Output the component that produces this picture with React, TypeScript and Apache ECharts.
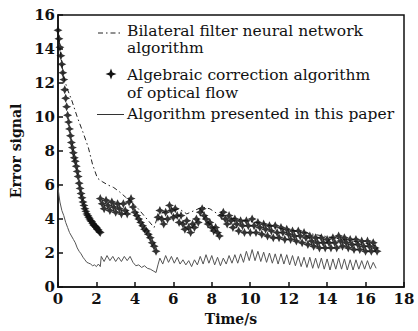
import React, { useEffect, useRef } from "react";
import * as echarts from "echarts";

// Time axis ticks (s) and error-signal ticks
const xTicks = [0, 2, 4, 6, 8, 10, 12, 14, 16, 18];
const yTicks = [0, 2, 4, 6, 8, 10, 12, 14, 16];

const seriesNames = [
  "Bilateral filter neural network algorithm",
  "Algebraic correction algorithm of optical flow",
  "Algorithm presented in this paper",
];

// Bilateral filter neural network algorithm (dash-dot), [time, error]
const bilateral: number[][] = [
  [0, 15.3], [0.1, 14.0], [0.28, 12.4], [0.5, 11.6], [0.71, 11.0], [1.0, 10.0],
  [1.3, 9.1], [1.58, 8.2], [1.8, 7.2], [2.05, 6.4], [2.3, 6.2], [2.6, 6.0],
  [2.9, 5.85], [3.2, 5.6], [3.5, 5.3], [3.8, 5.0], [4.1, 4.7], [4.4, 4.3],
  [4.7, 3.9], [5.0, 3.5], [5.2, 4.2], [5.5, 4.4], [5.9, 4.5], [6.3, 4.6],
  [6.7, 4.3], [7.1, 4.5], [7.5, 4.7], [7.9, 4.6], [8.3, 4.3], [8.8, 4.1],
  [9.3, 4.0], [9.8, 3.9], [10.3, 3.8], [10.8, 3.7], [11.3, 3.5], [11.8, 3.4],
  [12.3, 3.3], [12.8, 3.2], [13.3, 3.1], [13.8, 3.0], [14.3, 2.9], [14.8, 2.8],
  [15.3, 2.7], [15.8, 2.6], [16.3, 2.5], [16.6, 2.4],
];

// Algebraic correction algorithm of optical flow (star markers), [time, error]
const algebraic: number[][] = [
  [0, 15.1], [0.05, 14.6], [0.1, 14.1], [0.15, 13.6], [0.2, 13.1], [0.25, 12.6],
  [0.3, 12.2], [0.35, 11.6], [0.4, 11.1], [0.45, 10.6], [0.5, 10.1], [0.55, 9.7],
  [0.6, 9.3], [0.65, 8.9], [0.7, 8.5], [0.75, 8.2], [0.8, 7.9], [0.85, 7.6],
  [0.9, 7.4], [0.95, 7.1], [1.0, 6.8], [1.05, 6.5], [1.1, 6.1], [1.15, 5.8],
  [1.2, 5.5], [1.25, 5.25], [1.3, 5.0], [1.35, 4.8], [1.4, 4.6], [1.45, 4.45],
  [1.5, 4.3], [1.55, 4.2], [1.6, 4.1], [1.65, 4.0], [1.7, 3.9], [1.75, 3.85],
  [1.8, 3.75], [1.85, 3.65], [1.9, 3.6], [1.95, 3.55], [2.0, 3.5], [2.05, 3.4],
  [2.1, 3.35], [2.15, 3.25], [2.2, 3.2],
  [2.2, 5.2], [2.3, 4.9], [2.4, 4.6], [2.5, 5.1], [2.6, 4.8], [2.7, 4.5],
  [2.8, 5.0], [2.9, 4.7], [3.0, 4.4], [3.1, 4.9], [3.2, 4.6], [3.3, 4.3],
  [3.4, 4.9], [3.5, 4.5], [3.6, 4.3], [3.7, 5.0], [3.8, 5.2], [3.9, 4.7],
  [4.0, 4.4], [4.1, 4.2], [4.2, 4.0], [4.3, 3.8], [4.4, 3.6], [4.5, 3.4],
  [4.6, 3.3], [4.7, 3.1], [4.8, 2.9], [4.9, 2.6], [5.0, 2.4], [5.1, 2.1],
  [5.2, 4.1], [5.3, 4.5], [5.4, 4.0], [5.5, 3.7], [5.6, 4.4], [5.7, 4.0],
  [5.8, 4.8], [5.9, 4.5], [6.0, 4.1], [6.1, 4.6], [6.2, 4.2], [6.3, 3.8],
  [6.4, 4.2], [6.5, 3.7], [6.6, 3.4], [6.7, 3.9], [6.8, 3.5], [6.9, 3.2],
  [7.0, 3.7], [7.1, 3.5], [7.2, 4.0], [7.3, 3.8], [7.4, 4.4], [7.5, 4.6],
  [7.6, 4.2], [7.7, 4.0], [7.8, 3.7], [7.9, 3.8], [8.0, 3.5], [8.1, 3.3],
  [8.2, 3.5], [8.3, 3.2], [8.4, 3.0], [8.5, 4.2], [8.6, 4.4], [8.7, 4.0],
  [8.8, 3.7], [8.9, 4.2], [9.0, 3.9], [9.1, 3.5], [9.2, 4.0], [9.3, 3.7],
  [9.4, 3.3], [9.5, 3.9], [9.6, 3.6], [9.7, 3.2], [9.8, 3.9], [9.9, 3.6],
  [10.0, 3.2], [10.1, 4.0], [10.2, 3.6], [10.3, 3.2], [10.4, 3.8], [10.5, 3.5],
  [10.6, 3.1], [10.7, 3.7], [10.8, 3.4], [10.9, 3.0], [11.0, 3.6], [11.1, 3.3],
  [11.2, 2.9], [11.3, 3.6], [11.4, 3.2], [11.5, 2.9], [11.6, 3.5], [11.7, 3.2],
  [11.8, 2.8], [11.9, 3.4], [12.0, 3.1], [12.1, 2.8], [12.2, 3.3], [12.3, 3.0],
  [12.4, 2.7], [12.5, 3.3], [12.6, 3.0], [12.7, 2.6], [12.8, 3.2], [12.9, 2.9],
  [13.0, 2.5], [13.1, 3.0], [13.2, 2.7], [13.3, 2.4], [13.4, 2.9], [13.5, 2.6],
  [13.6, 2.3], [13.7, 2.9], [13.8, 2.6], [13.9, 2.3], [14.0, 2.8], [14.1, 2.6],
  [14.2, 2.3], [14.3, 2.9], [14.4, 2.6], [14.5, 2.3], [14.6, 3.0], [14.7, 2.7],
  [14.8, 2.4], [14.9, 2.9], [15.0, 2.6], [15.1, 2.3], [15.2, 2.8], [15.3, 2.5],
  [15.4, 2.2], [15.5, 2.8], [15.6, 2.5], [15.7, 2.2], [15.8, 2.7], [15.9, 2.4],
  [16.0, 2.1], [16.1, 2.7], [16.2, 2.4], [16.3, 2.1], [16.4, 2.6], [16.5, 2.3],
  [16.6, 2.1],
];

// Algorithm presented in this paper (solid), [time, error]
const presented: number[][] = [
  [0, 5.85], [0.05, 5.4], [0.1, 5.0], [0.2, 4.5], [0.3, 4.2], [0.4, 3.8],
  [0.5, 3.5], [0.6, 3.2], [0.7, 3.0], [0.8, 2.8], [0.9, 2.6], [1.0, 2.3],
  [1.1, 2.1], [1.2, 1.95], [1.3, 1.75], [1.4, 1.6], [1.5, 1.45], [1.6, 1.4],
  [1.7, 1.35], [1.8, 1.25], [1.9, 1.3], [2.0, 1.2], [2.1, 1.35], [2.2, 1.2],
  [2.25, 1.8], [2.4, 1.5], [2.55, 1.85], [2.7, 1.55], [2.85, 1.8], [3.0, 1.5],
  [3.15, 1.75], [3.3, 1.5], [3.45, 1.8], [3.6, 1.55], [3.75, 1.8], [3.9, 1.45],
  [4.05, 1.25], [4.2, 1.3], [4.35, 1.15], [4.5, 1.25], [4.65, 1.1], [4.8, 1.05],
  [4.95, 0.95], [5.1, 0.85], [5.2, 1.3], [5.3, 1.7], [5.45, 1.35], [5.6, 1.85],
  [5.75, 1.45], [5.9, 1.8], [6.05, 1.4], [6.2, 1.75], [6.35, 1.35], [6.5, 1.6],
  [6.65, 1.3], [6.8, 1.55], [6.95, 1.2], [7.1, 1.6], [7.25, 1.3], [7.4, 1.8],
  [7.55, 1.35], [7.7, 1.9], [7.85, 1.4], [8.0, 1.85], [8.15, 1.3], [8.3, 1.75],
  [8.45, 1.25], [8.6, 1.7], [8.75, 1.35], [8.9, 1.85], [9.05, 1.4], [9.2, 1.9],
  [9.35, 1.4], [9.5, 1.95], [9.65, 1.45], [9.8, 2.1], [9.95, 1.55], [10.1, 2.2],
  [10.25, 1.55], [10.4, 2.1], [10.55, 1.5], [10.7, 2.05], [10.85, 1.45], [11.0, 2.0],
  [11.15, 1.4], [11.3, 1.95], [11.45, 1.35], [11.6, 1.95], [11.75, 1.35], [11.9, 1.9],
  [12.05, 1.3], [12.2, 1.85], [12.35, 1.25], [12.5, 1.8], [12.65, 1.2], [12.8, 1.75],
  [12.95, 1.15], [13.1, 1.75], [13.25, 1.1], [13.4, 1.7], [13.55, 1.1], [13.7, 1.7],
  [13.85, 1.05], [14.0, 1.65], [14.15, 1.0], [14.3, 1.65], [14.45, 1.05], [14.6, 1.7],
  [14.75, 1.05], [14.9, 1.65], [15.05, 1.0], [15.2, 1.6], [15.35, 1.0], [15.5, 1.6],
  [15.65, 1.05], [15.8, 1.55], [15.95, 1.05], [16.1, 1.55], [16.25, 1.05], [16.4, 1.45],
  [16.55, 1.1],
];

const legendLines = [
  "Bilateral filter neural network",
  "algorithm",
  "Algebraic correction algorithm",
  "of optical flow",
  "Algorithm presented in this paper",
];

const STAR = "path://M0,-5 L1.6,-1.6 L5,0 L1.6,1.6 L0,5 L-1.6,1.6 L-5,0 L-1.6,-1.6 Z";
const serif = "DejaVu Serif";

export default function App() {
  const ref = useRef<HTMLDivElement>(null);
  useEffect(() => {
    if (!ref.current) return;
    const chart = echarts.init(ref.current, null, { renderer: "svg" });
    const legendFont = { fontFamily: serif, fontSize: 15.5, fill: "#111" };
    const textX = 127;
    const textYs = [31, 48, 75, 92.5, 114];
    chart.setOption({
      animation: false,
      backgroundColor: "#fff",
      grid: {
        left: 58, right: 14, top: 15, bottom: 43,
        show: true, borderColor: "#111", borderWidth: 1.5,
      },
      xAxis: {
        type: "value", min: 0, max: 18, interval: 2,
        name: "Time/s", nameLocation: "middle", nameGap: 25,
        nameTextStyle: { fontFamily: serif, fontWeight: "bold", fontSize: 14, color: "#111" },
        axisLine: { lineStyle: { color: "#111", width: 1.5 } },
        axisTick: { inside: true, length: 5, lineStyle: { color: "#111", width: 1.5 } },
        axisLabel: {
          margin: 4, fontFamily: serif, fontWeight: "bold", fontSize: 15, color: "#111",
          formatter: (v: number) => (xTicks.includes(v) ? String(v) : ""),
        },
        splitLine: { show: false },
      },
      yAxis: {
        type: "value", min: 0, max: 16, interval: 2,
        name: "Error signal", nameLocation: "middle", nameGap: 24,
        nameTextStyle: { fontFamily: serif, fontWeight: "bold", fontSize: 14, color: "#111" },
        axisLine: { show: true, lineStyle: { color: "#111", width: 1.5 } },
        axisTick: { show: true, inside: true, length: 5, lineStyle: { color: "#111", width: 1.5 } },
        axisLabel: {
          margin: 3, fontFamily: serif, fontWeight: "bold", fontSize: 15, color: "#111",
          formatter: (v: number) => (yTicks.includes(v) ? String(v) : ""),
        },
        splitLine: { show: false },
      },
      series: [
        {
          name: seriesNames[0], type: "line", data: bilateral, showSymbol: false,
          lineStyle: { color: "#222", width: 1, type: [5, 3, 1.5, 3] }, z: 2,
        },
        {
          name: seriesNames[1], type: "scatter", data: algebraic,
          symbol: STAR, symbolSize: 9,
          itemStyle: { color: "#111", opacity: 0.85 }, z: 3,
        },
        {
          name: seriesNames[2], type: "line", data: presented, showSymbol: false,
          lineStyle: { color: "#555", width: 1 }, z: 2,
        },
      ],
      graphic: [
        { type: "line", shape: { x1: 98, y1: 33, x2: 123, y2: 33 },
          style: { stroke: "#222", lineWidth: 1, lineDash: [5, 3, 1.5, 3] } },
        { type: "polygon", shape: { points: [[111, 68.5], [112.5, 72.5], [116.5, 74], [112.5, 75.5], [111, 79.5], [109.5, 75.5], [105.5, 74], [109.5, 72.5]] },
          style: { fill: "#111" } },
        { type: "line", shape: { x1: 97, y1: 114.5, x2: 124, y2: 114.5 },
          style: { stroke: "#333", lineWidth: 1 } },
        ...legendLines.map((t, i) => ({
          type: "text", x: textX, y: textYs[i],
          style: { ...legendFont, text: t, verticalAlign: "middle", align: "left" },
        })),
      ],
    });
    return () => chart.dispose();
  }, []);
  return (
    <div
      ref={ref}
      style={{ position: "fixed", left: 0, top: 0, width: 418, height: 331, background: "#fff" }}
    />
  );
}
